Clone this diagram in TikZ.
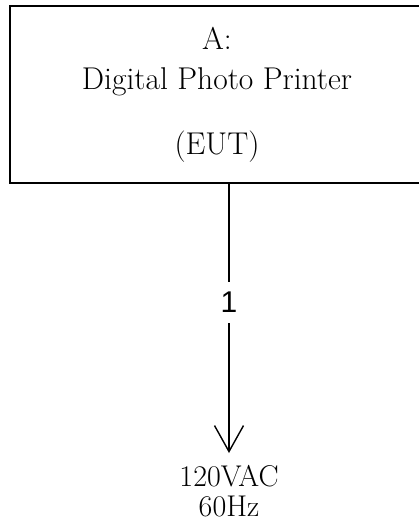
\documentclass[tikz,border=0pt]{standalone}
\usepackage{fontspec}
\newfontfamily\lblfont{Liberation Sans}
\usepackage{tikz}
\usetikzlibrary{arrows.meta, positioning, calc}

\begin{document}
\begin{tikzpicture}[x=1pt, y=1pt,
    eutblock/.style={rectangle, draw=black, line width=1.4pt, minimum width=414pt, minimum height=177pt, align=center, font=\fontsize{31.5}{40}\selectfont},
    supply/.style={inner sep=0pt, align=center, font=\fontsize{30}{30}\selectfont},
    cable/.style={draw, line width=1.4pt, -{Straight Barb[length=26pt, width=29pt, line width=1.4pt]}},
    cablenum/.style={fill=white, inner sep=0pt, minimum height=41pt, font=\lblfont\fontsize{30}{32}\selectfont}]

    \clip (0,0) rectangle (419,-522);
    \useasboundingbox (0,0) rectangle (419,-522);

    \node [eutblock] (eut) at (217,-94.5) {A:\\Digital Photo Printer\\[25pt](EUT)};
    \node [supply, anchor=north] (ac) at (229,-465) {120VAC\\60Hz};

    % power cable
    \path [cable] (eut.south -| ac.north) -- node [cablenum, pos=0.44] {1} ([yshift=12pt]ac.north);
\end{tikzpicture}
\end{document}
